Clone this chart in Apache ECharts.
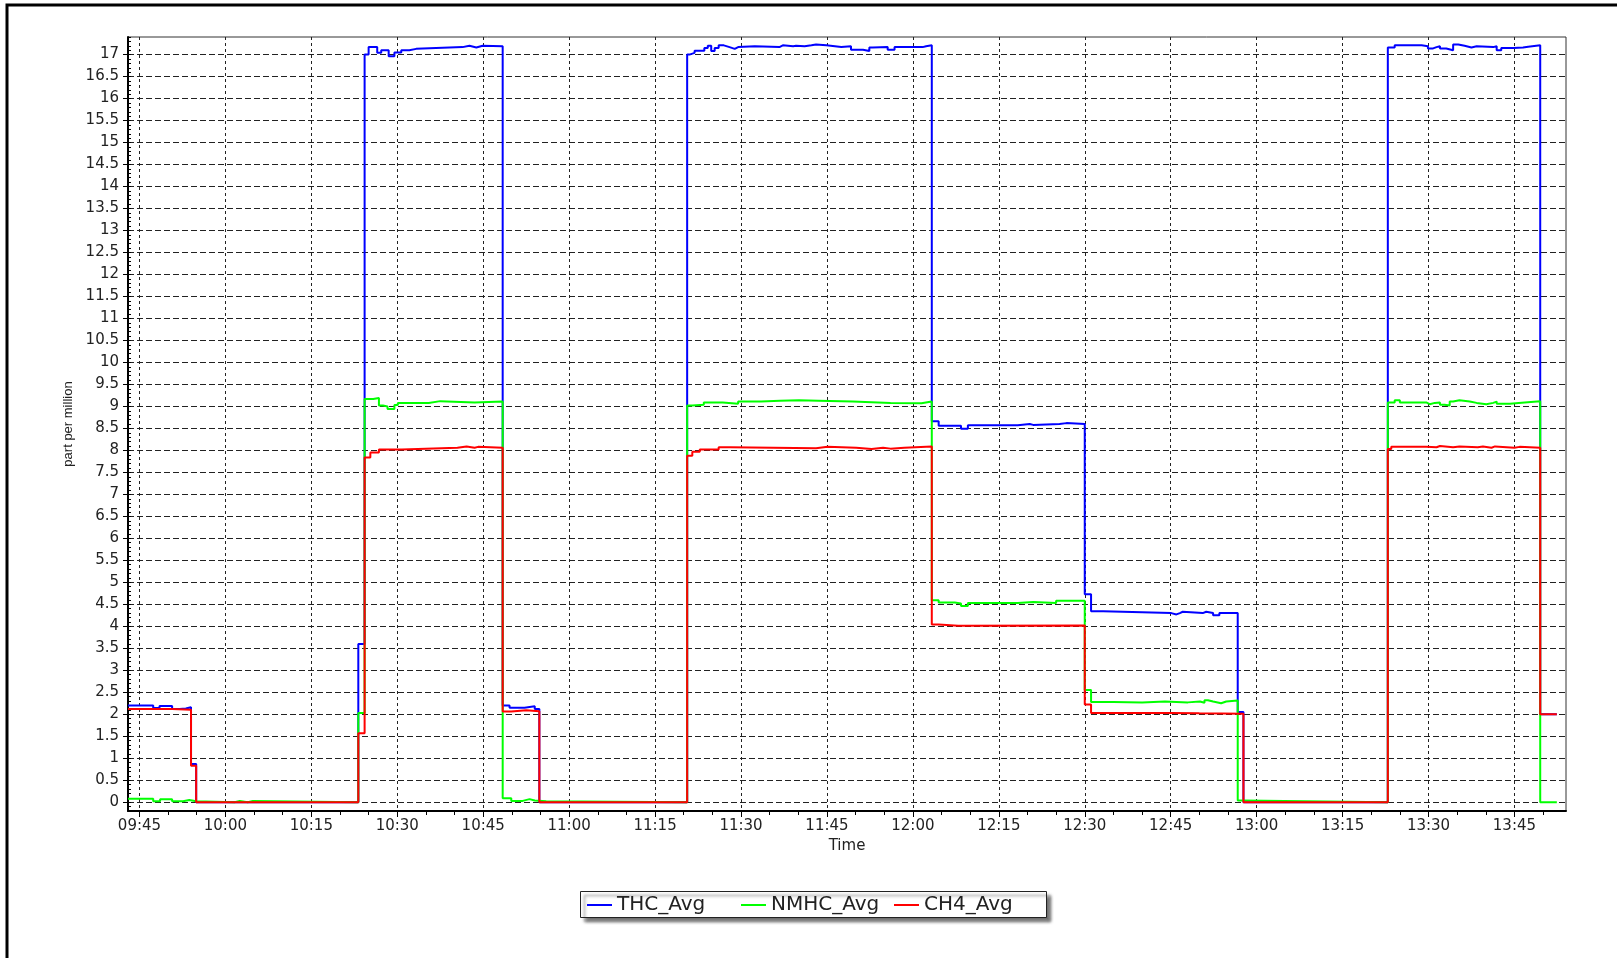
<!DOCTYPE html>
<html><head><meta charset="utf-8">
<script src="https://cdn.jsdelivr.net/npm/echarts@6.0.0/dist/echarts.min.js"></script>
<style>html,body{margin:0;padding:0;background:#fff}#c{width:1617px;height:958px}</style>
</head><body><div id="c"></div>
<script>
// Time values are minutes after midnight (e.g. 585 = 09:45)
const seriesNames = ['THC_Avg', 'NMHC_Avg', 'CH4_Avg'];
const xTickLabels = ['09:45','10:00','10:15','10:30','10:45','11:00','11:15','11:30','11:45','12:00','12:15','12:30','12:45','13:00','13:15','13:30','13:45'];
const yTickLabels = ['0','0.5','1','1.5','2','2.5','3','3.5','4','4.5','5','5.5','6','6.5','7','7.5','8','8.5','9','9.5','10','10.5','11','11.5','12','12.5','13','13.5','14','14.5','15','15.5','16','16.5','17'];

const thcAvg = [
 [583,2.20],[587.4,2.14],[588.5,2.19],[590.7,2.12],[592.0,2.13],[593.1,2.16],[594.0,0.87],[594.9,0],
 [623.2,3.60],[624.3,17.00],[625.0,17.17],[626.5,17.04],[627.2,17.10],[628.5,16.96],[629.5,17.05],[630.7,17.10],[632.1,17.13],[633.3,17.17],[641.4,17.20],[642.6,17.16],[643.8,17.20],[644.9,17.19],
 [648.4,2.20],[649.6,2.15],[652.2,2.18],[654.0,2.12],[654.8,0],
 [680.6,17.00],[681.0,17.04],[681.9,17.09],[683.6,17.15],[684.2,17.20],[684.8,17.08],[685.4,17.15],[686.1,17.21],[687.0,17.17],[688.0,17.13],[688.9,17.17],[689.5,17.19],[692.4,17.17],[696.7,17.21],[697.3,17.19],[699.1,17.20],[699.6,17.19],[701.1,17.21],[702.3,17.23],[703.1,17.21],[704.9,17.17],[707.5,17.19],[709.2,17.11],[711.3,17.08],[712.4,17.16],[713.0,17.17],[715.6,17.11],[716.8,17.17],[721.7,17.19],[722.3,17.21],
 [723.3,8.66],[724.5,8.56],[728.4,8.49],[729.6,8.57],[738.3,8.60],[740.4,8.58],[741.0,8.60],[745.6,8.62],[746.8,8.60],
 [750.0,4.73],[751.1,4.34],[753.2,4.30],[765.1,4.27],[766.0,4.30],[766.6,4.33],[767.1,4.30],[770.6,4.33],[771.2,4.30],[772.4,4.25],[773.5,4.30],
 [776.7,2.05],[777.7,0],
 [802.9,17.16],[804.1,17.21],[808.8,17.19],[809.9,17.14],[810.8,17.17],[811.4,17.19],[812.0,17.14],[813.1,17.10],[814.3,17.23],[815.2,17.20],[816.3,17.16],[817.5,17.19],[818.4,17.17],[821.3,17.19],[821.9,17.10],[822.7,17.15],[824.8,17.16],[826.5,17.18],[827.4,17.21],
 [829.5,2.00],[832.4,2.00]
];

const nmhcAvg = [
 [583,0.08],[587.4,0.02],[588.6,0.07],[590.7,0.02],[592.6,0.05],[593.7,0.02],[594.9,0],
 [601.6,0.03],[602.5,0],[603.9,0.03],[604.8,0],
 [623.2,2.03],[624.3,9.17],[625.8,9.19],[626.8,9.02],[627.5,9.00],[628.3,8.94],[629.5,9.03],[630.1,9.08],[635.5,9.12],[637.5,9.09],[643.5,9.11],
 [648.4,0.09],[649.9,0.03],[651.9,0.07],[653.1,0.04],[654.0,0.02],[656.0,0],
 [680.6,9.02],[681.5,9.04],[683.5,9.09],[686.8,9.06],[689.5,9.11],[693.5,9.13],[696.8,9.14],[700.1,9.13],[703.5,9.11],[709.5,9.08],[716.1,9.07],[721.5,9.11],
 [723.3,4.59],[724.5,4.54],[727.3,4.52],[728.4,4.46],[729.6,4.53],[738.3,4.55],[741.0,4.53],[745.0,4.58],
 [750.0,2.55],[751.1,2.28],[755.0,2.27],[760.0,2.29],[764.0,2.27],[768.0,2.29],[770.1,2.26],[770.9,2.32],[771.5,2.29],[772.4,2.25],[773.8,2.29],[774.7,2.31],
 [776.7,0.04],[777.6,0],
 [802.9,9.09],[804.1,9.14],[805.0,9.09],[809.6,9.05],[810.2,9.08],[811.1,9.09],[812.0,9.04],[812.8,9.02],[813.7,9.11],[814.3,9.14],[815.4,9.11],[817.2,9.08],[818.4,9.05],[820.1,9.08],[821.3,9.11],[821.9,9.06],[824.2,9.09],[826.8,9.12],
 [829.5,0],[832.4,0]
];

const ch4Avg = [
 [583,2.12],[590.7,2.10],[594.0,0.83],[594.9,0],
 [623.2,1.57],[624.3,7.84],[625.3,7.95],[626.8,8.02],[630.8,8.06],[640.5,8.09],[642.1,8.06],[643.5,8.08],[644.1,8.06],
 [648.4,2.06],[649.9,2.09],[652.5,2.07],[654.8,0],
 [680.6,7.88],[681.5,7.97],[682.8,8.02],[686.1,8.07],[688.1,8.05],[703.1,8.08],[705.1,8.06],[710.1,8.03],[712.8,8.06],[714.8,8.04],[716.1,8.06],[718.5,8.09],
 [723.3,4.04],[724.5,4.01],[727.9,4.02],
 [750.0,2.22],[751.1,2.03],[765.0,2.02],[770.0,2.01],
 [777.7,0],
 [802.9,8.03],[803.5,8.08],[809.6,8.07],[811.4,8.10],[812.0,8.07],[814.3,8.09],[815.4,8.07],[818.6,8.09],[819.5,8.06],[821.0,8.09],[821.6,8.06],[825.0,8.08],[825.9,8.06],
 [829.5,2.00],[832.4,2.00]
];

const seriesColors = ['#0000ff', '#00ff00', '#ff0000'];
const xStart = 583, xEnd = 834;   // 09:43 .. 13:54
const yMin = -0.2, yMax = 17.4;

function hhmm(m){ const h = Math.floor(m/60), mm = m % 60; return String(h).padStart(2,'0') + ':' + String(mm).padStart(2,'0'); }
const xCats = []; for (let m = xStart; m <= xEnd; m++) xCats.push(hhmm(m));
const yCats = []; for (let k = Math.round(yMin*10); k <= Math.round(yMax*10); k++) yCats.push(String(Number((k/10).toFixed(1))));

const txt = { fontFamily: 'DejaVu Sans', fontSize: 15, color: '#222' };
const gridLine = '#222';
const legendLefts = [587, 741, 894];

const chart = echarts.init(document.getElementById('c'), null, { renderer: 'canvas' });
chart.setOption({
  animation: false,
  backgroundColor: '#fff',
  graphic: [
    { type: 'polyline', silent: true, z: 1,
      shape: { points: [[7, 970], [7, 5], [1630, 5]] },
      style: { stroke: '#000', lineWidth: 3, fill: null } },
    { type: 'rect', silent: true, z: 1,
      shape: { x: 580.5, y: 891.5, width: 466, height: 26 },
      style: { fill: '#fff', stroke: '#222', lineWidth: 1,
        shadowColor: 'rgba(0,0,0,0.55)', shadowBlur: 3, shadowOffsetX: 4, shadowOffsetY: 4 } }
  ],
  grid: { left: 128, top: 37, width: 1438, height: 774, show: true, borderColor: '#333', borderWidth: 1 },
  legend: seriesNames.map((n, k) => ({
    left: legendLefts[k], top: 895, padding: 0, z: 10,
    itemWidth: 25, itemHeight: 2, icon: 'rect',
    textStyle: { fontFamily: 'DejaVu Sans', fontSize: 20, color: '#222' },
    data: [n]
  })),
  xAxis: [
    { type: 'value', min: xStart, max: xEnd, show: false },
    { type: 'category', data: xCats, boundaryGap: false, position: 'bottom',
      name: 'Time', nameLocation: 'middle', nameGap: 27, nameTextStyle: txt,
      axisLine: { onZero: false, lineStyle: { color: '#000', width: 2 } },
      axisTick: { interval: (i) => (xStart + i) % 5 === 0, length: 4, lineStyle: { color: '#000' } },
      axisLabel: Object.assign({ interval: (i) => xTickLabels.indexOf(xCats[i]) >= 0, margin: 8 }, txt),
      splitLine: { show: true, interval: (i) => xTickLabels.indexOf(xCats[i]) >= 0, lineStyle: { type: [3, 3], color: gridLine, width: 1 } } },
    { type: 'category', data: xCats, boundaryGap: false, position: 'bottom',
      axisLine: { show: false, onZero: false },
      axisTick: { interval: (i) => xTickLabels.indexOf(xCats[i]) >= 0, length: 6, lineStyle: { color: '#000' } },
      axisLabel: { show: false }, splitLine: { show: false } }
  ],
  yAxis: [
    { type: 'value', min: yMin, max: yMax, show: false },
    { type: 'category', data: yCats, boundaryGap: false, position: 'left',
      name: 'part per million', nameLocation: 'middle', nameGap: 48, nameRotate: 90,
      nameTextStyle: { fontFamily: 'Liberation Sans', fontSize: 13, color: '#222' },
      axisLine: { onZero: false, lineStyle: { color: '#000', width: 2 } },
      axisTick: { interval: 0, inside: true, length: 3, lineStyle: { color: '#000' } },
      axisLabel: Object.assign({ interval: (i) => yTickLabels.indexOf(yCats[i]) >= 0, margin: 9 }, txt),
      splitLine: { show: true, interval: (i) => yTickLabels.indexOf(yCats[i]) >= 0, lineStyle: { type: [6, 3], color: gridLine, width: 1 } } },
    { type: 'category', data: yCats, boundaryGap: false, position: 'left',
      axisLine: { show: false, onZero: false },
      axisTick: { interval: (i) => yTickLabels.indexOf(yCats[i]) >= 0, length: 5, lineStyle: { color: '#000' } },
      axisLabel: { show: false }, splitLine: { show: false } }
  ],
  series: [
    { name: seriesNames[0], data: thcAvg, color: seriesColors[0] },
    { name: seriesNames[1], data: nmhcAvg, color: seriesColors[1] },
    { name: seriesNames[2], data: ch4Avg, color: seriesColors[2] }
  ].map(s => Object.assign({
    type: 'line', step: 'end', xAxisIndex: 0, yAxisIndex: 0,
    symbol: 'none', showSymbol: false,
    lineStyle: { width: 2, color: s.color }, itemStyle: { color: s.color }
  }, s))
});
</script>
</body></html>
